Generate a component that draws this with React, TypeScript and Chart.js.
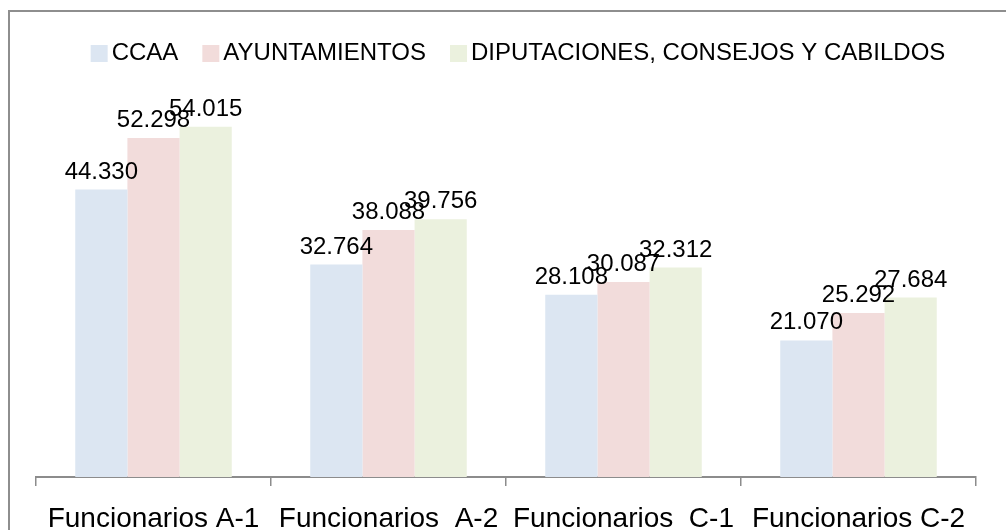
import React, { useEffect, useRef } from "react";
import { Chart, registerables } from "chart.js";

Chart.register(...registerables);

// ---- data ----
const categories = ["Funcionarios A-1", "Funcionarios  A-2", "Funcionarios  C-1", "Funcionarios C-2"];
const seriesNames = ["CCAA", "AYUNTAMIENTOS", "DIPUTACIONES, CONSEJOS Y CABILDOS"];
const ccaaValues = [44330, 32764, 28108, 21070];
const ayuntamientosValues = [52298, 38088, 30087, 25292];
const diputacionesValues = [54015, 39756, 32312, 27684];
const seriesColors = ["#dce6f2", "#f2dcdb", "#ebf1de"];
const yMin = 0;
const yMax = 60000;

const FONT = "'Liberation Sans', Arial, sans-serif";
const CANVAS_W = 1006;
const CANVAS_H = 554;

function fmt(v: number): string {
  return Math.round(v).toString().replace(/\B(?=(\d{3})+(?!\d))/g, ".");
}

const framePlugin = {
  id: "frame",
  beforeDraw(chart: any) {
    const ctx = chart.ctx;
    ctx.save();
    ctx.strokeStyle = "#8e8e8e";
    ctx.lineWidth = 2;
    ctx.beginPath();
    ctx.moveTo(9, chart.height + 5);
    ctx.lineTo(9, 11);
    ctx.lineTo(chart.width + 5, 11);
    ctx.stroke();
    ctx.restore();
  },
};

const legendPlugin = {
  id: "customLegend",
  afterDraw(chart: any) {
    const ctx = chart.ctx;
    const box = 17;
    const gapText = 4;
    const gapItem = 24;
    const centerX = 518;
    const centerY = 53.5;
    ctx.save();
    ctx.font = `24px ${FONT}`;
    const items = chart.data.datasets.map((ds: any) => ({
      text: ds.label as string,
      color: ds.backgroundColor as string,
      w: ctx.measureText(ds.label).width,
    }));
    const total =
      items.reduce((s: number, it: any) => s + box + gapText + it.w, 0) + gapItem * (items.length - 1);
    let x = centerX - total / 2;
    ctx.textBaseline = "middle";
    ctx.textAlign = "left";
    for (const it of items) {
      ctx.fillStyle = it.color;
      ctx.fillRect(x, centerY - box / 2, box, box);
      ctx.fillStyle = "#000000";
      ctx.fillText(it.text, x + box + gapText, centerY);
      x += box + gapText + it.w + gapItem;
    }
    ctx.restore();
  },
};

const valueLabelPlugin = {
  id: "valueLabels",
  afterDatasetsDraw(chart: any) {
    const ctx = chart.ctx;
    ctx.save();
    ctx.font = `24px ${FONT}`;
    ctx.fillStyle = "#000000";
    ctx.textAlign = "center";
    ctx.textBaseline = "alphabetic";
    chart.data.datasets.forEach((ds: any, di: number) => {
      const meta = chart.getDatasetMeta(di);
      meta.data.forEach((bar: any, i: number) => {
        ctx.fillText(fmt(ds.data[i]), bar.x, bar.y - 11);
      });
    });
    ctx.restore();
  },
};

export default function App() {
  const canvasRef = useRef<HTMLCanvasElement | null>(null);

  useEffect(() => {
    const canvas = canvasRef.current;
    if (!canvas) return;
    const seriesValues = [ccaaValues, ayuntamientosValues, diputacionesValues];
    const chart = new Chart(canvas, {
      type: "bar",
      data: {
        labels: categories,
        datasets: seriesNames.map((name, i) => ({
          label: name,
          data: seriesValues[i],
          backgroundColor: seriesColors[i],
          borderWidth: 0,
          categoryPercentage: 0.666,
          barPercentage: 1.0,
        })),
      },
      options: {
        responsive: false,
        animation: false,
        devicePixelRatio: 1,
        layout: { padding: { left: 36, right: 30, top: 88, bottom: 1.6 } },
        plugins: {
          legend: { display: false },
          title: { display: false },
          tooltip: { enabled: false },
        },
        scales: {
          x: {
            grid: {
              display: true,
              drawOnChartArea: false,
              drawTicks: true,
              tickLength: 9,
              color: "#8c8c8c",
              lineWidth: 1.5,
              offset: true,
            },
            border: { display: true, color: "#8c8c8c", width: 2 },
            ticks: {
              color: "#000000",
              font: { family: FONT, size: 28, lineHeight: 0.8 },
              padding: 22,
              maxRotation: 0,
              minRotation: 0,
              autoSkip: false,
            },
          },
          y: {
            display: false,
            min: yMin,
            max: yMax,
            grid: { display: false },
          },
        },
      },
      plugins: [framePlugin, valueLabelPlugin, legendPlugin],
    });
    return () => chart.destroy();
  }, []);

  return (
    <div
      style={{
        position: "fixed",
        left: 0,
        top: 0,
        width: CANVAS_W,
        height: 530,
        overflow: "hidden",
        background: "#ffffff",
      }}
    >
      <canvas
        ref={canvasRef}
        width={CANVAS_W}
        height={CANVAS_H}
        style={{ display: "block" }}
      />
    </div>
  );
}
